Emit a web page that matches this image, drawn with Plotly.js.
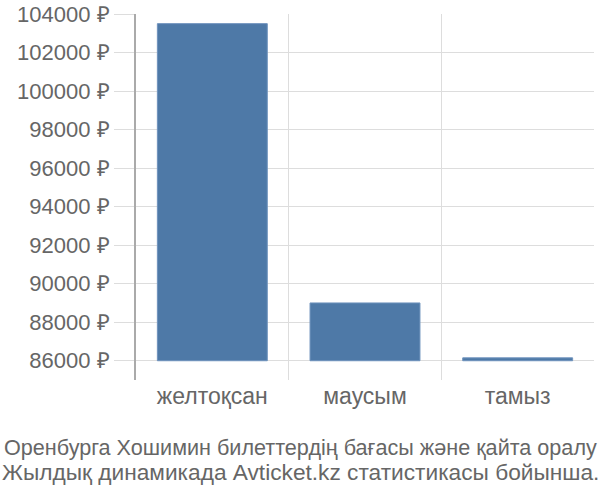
<!DOCTYPE html>
<html>
<head>
<meta charset="utf-8">
<script src="https://cdn.plot.ly/plotly-3.0.1.min.js"></script>
<style>
  html, body { margin: 0; padding: 0; background: #fff; }
  #chart { width: 600px; height: 500px; }
</style>
</head>
<body>
<div id="chart"></div>
<script>
const months = ['желтоқсан', 'маусым', 'тамыз'];
const prices = [103500, 89000, 86150];
const baseline = 86000;
const titleLines = [
    'Оренбурга Хошимин билеттердің бағасы және қайта оралу',
    'Жылдық динамикада Avticket.kz статистикасы бойынша.'
];
// each line is stretched to the page width in the original
const titleSizes = [21.6, 22.7];

const traces = [{
    type: 'bar',
    x: months,
    y: prices.map(p => p - baseline),
    base: baseline,
    marker: { color: '#4e79a7', line: { color: '#6f93bd', width: 1 } },
    hoverinfo: 'skip'
}];

// title lines are placed under the plot, centred on the page (x=300px)
const pageCentre = (300 - 136) / 458;
const annotations = titleLines.map((t, i) => ({
    text: t, showarrow: false,
    xref: 'paper', yref: 'paper',
    x: pageCentre, xanchor: 'center',
    y: -(67 + i * 25) / 366, yanchor: 'middle',
    font: { size: titleSizes[i], color: '#666' }
}));

const layout = {
    width: 600, height: 500,
    paper_bgcolor: '#fff', plot_bgcolor: '#fff',
    font: { family: 'Liberation Sans, Arial, sans-serif', color: '#666', size: 22 },
    margin: { t: 14, b: 120, l: 136, r: 6 },
    showlegend: false,
    bargap: 0.28,
    annotations: annotations,
    xaxis: {
        type: 'category',
        tickson: 'boundaries',
        showgrid: true, gridcolor: '#ddd', gridwidth: 1,
        ticks: '', showline: false, zeroline: false,
        tickfont: { size: 23, color: '#666' }
    },
    yaxis: {
        range: [85000, 104000],
        dtick: 2000, tick0: 86000,
        ticksuffix: ' ₽',
        tickformat: 'd',
        showgrid: true, gridcolor: '#ddd', gridwidth: 1,
        ticks: 'outside', ticklen: 20, tickcolor: '#ddd',
        showline: true, linecolor: '#aaa', linewidth: 2,
        zeroline: false,
        tickfont: { size: 22, color: '#666' }
    }
};

Plotly.newPlot('chart', traces, layout, { displayModeBar: false, staticPlot: true });
</script>
</body>
</html>
